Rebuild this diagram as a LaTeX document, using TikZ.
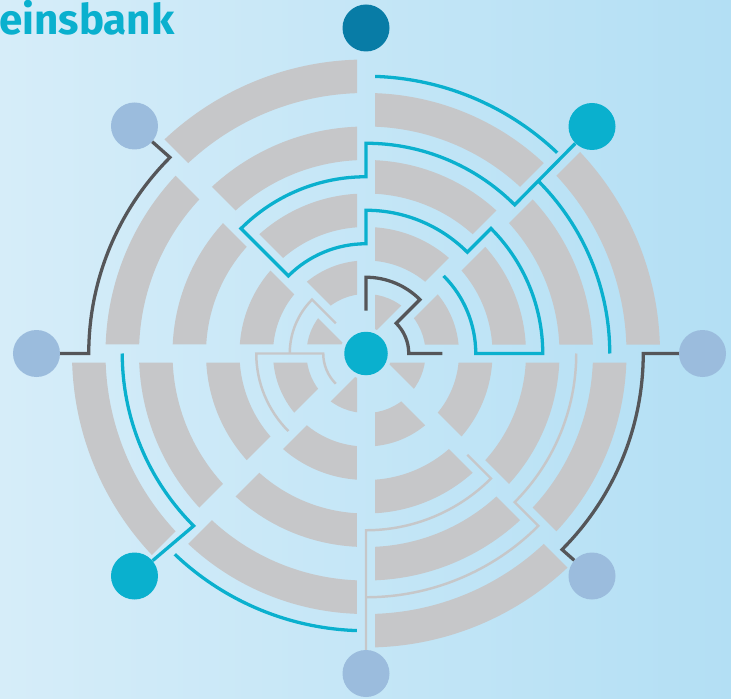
\documentclass[tikz,border=0pt]{standalone}
\usepackage{fontspec}
\usepackage{tikz}
\newfontfamily\logofont{Fira Sans}
\definecolor{bandgray}{RGB}{198,199,201}
\definecolor{hvcyan}{RGB}{10,176,206}
\definecolor{hvdark}{RGB}{8,124,166}
\definecolor{hvpale}{RGB}{155,188,221}
\definecolor{linegray}{RGB}{85,86,89}
\definecolor{bgleft}{RGB}{214,237,249}
\definecolor{bgright}{RGB}{179,223,244}

\begin{document}
\begin{tikzpicture}[x=0.3mm,y=0.3mm]
            \tikzstyle{every node}+=[inner sep=0pt]
            \tikzstyle{station}=[circle, minimum size=14.1mm]
            \tikzstyle{cyanline}=[draw=hvcyan, line width=2.8pt]
            \tikzstyle{darkline}=[draw=linegray, line width=2.8pt]
            \tikzstyle{lightline}=[draw=bandgray, line width=2.1pt]
            \useasboundingbox (-366,-344.5) rectangle (365,353.5);
            \shade [left color=bgleft, right color=bgright] (-366,-344.5) rectangle (365,353.5);
            % rings, odd slots
            \foreach \a in {0,90,180,270} {
              \begin{scope}[rotate=\a]
              \clip (22.5:23.52) -- ++(0:400) -- ++(112.5:306.15) -- cycle;
              \fill [bandgray, even odd rule] (0,0) circle (59.5) circle (93) circle (126.5) circle (160)
                circle (193.5) circle (227) circle (260.5) circle (294);
              \end{scope}
            }
            % rings, even slots
            \foreach \a in {45,135,225,315} {
              \begin{scope}[rotate=\a]
              \clip (22.5:23.52) -- ++(0:400) -- ++(112.5:306.15) -- cycle;
              \fill [bandgray, even odd rule] (0,0) circle (26) circle (59.5) circle (93) circle (126.5)
                circle (160) circle (193.5) circle (227) circle (260.5);
              \end{scope}
            }
            \node [station, fill=hvcyan, minimum size=13.05mm] (hub) at (0,0) {};
            \node [station, fill=hvdark] (dN) at (0,325.5) {};
            \node [station, fill=hvcyan] (dNE) at (226,227) {};
            \node [station, fill=hvpale] (dE) at (336.5,0) {};
            \node [station, fill=hvpale] (dSE) at (226,-222.5) {};
            \node [station, fill=hvpale] (dS) at (0,-320) {};
            \node [station, fill=hvcyan] (dSW) at (-231.5,-222.5) {};
            \node [station, fill=hvpale] (dW) at (-329.5,0) {};
            \node [station, fill=hvpale] (dNW) at (-231.5,227.5) {};
            \node [anchor=base west, text=hvcyan, font=\logofont\bfseries\fontsize{36}{36}\selectfont] (brand) at (-367,318.5) {einsbank};
            % cyan paths
            \draw [cyanline] (dNE) -- (45:210.25) arc [start angle=45, end angle=90, radius=210.25]
              -- (90:176.75) arc [start angle=90, end angle=135, radius=176.75]
              -- (135:109.75) arc [start angle=135, end angle=90, radius=109.75]
              -- (90:143.25) arc [start angle=90, end angle=45, radius=143.25]
              -- (45:176.75) arc [start angle=45, end angle=0, radius=176.75]
              -- (0:109.75) arc [start angle=0, end angle=45, radius=109.75];
            \draw [cyanline] (45:243.75) arc [start angle=45, end angle=0, radius=243.75];
            \draw [cyanline] (88.1:277.25) arc [start angle=88.1, end angle=46.4, radius=277.25];
            \draw [cyanline] (dSW) -- (225:243.75) arc [start angle=225, end angle=180, radius=243.75];
            \draw [cyanline] (226.4:277.25) arc [start angle=226.4, end angle=268.1, radius=277.25];
            % dark paths
            \draw [darkline] (dW) -- (180:277.25) arc [start angle=180, end angle=135, radius=277.25] -- (dNW);
            \draw [darkline] (dE) -- (0:277.25) arc [start angle=0, end angle=-45, radius=277.25] -- (dSE);
            \draw [darkline] (90:42.75) -- (90:76.25) arc [start angle=90, end angle=45, radius=76.25]
              -- (45:42.75) arc [start angle=45, end angle=0, radius=42.75] -- (0:76.25);
            % light paths
            \draw [lightline] (135:42.75) -- (135:76.25) arc [start angle=135, end angle=180, radius=76.25];
            \draw [lightline] (225:42.75) arc [start angle=225, end angle=180, radius=42.75]
              -- (180:109.75) arc [start angle=180, end angle=225, radius=109.75];
            \draw [lightline] (dS) -- (270:176.75) arc [start angle=270, end angle=315, radius=176.75] -- (315:143.25);
            \draw [lightline] (270:243.75) arc [start angle=270, end angle=315, radius=243.75]
              -- (315:210.25) arc [start angle=315, end angle=360, radius=210.25];
\end{tikzpicture}
\end{document}
